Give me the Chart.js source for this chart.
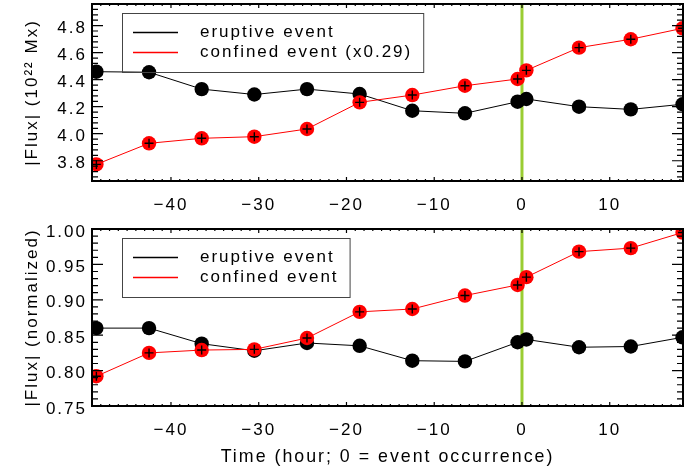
<!DOCTYPE html>
<html>
<head>
<meta charset="utf-8">
<script src="https://cdn.jsdelivr.net/npm/chart.js@4.4.0/dist/chart.umd.min.js"></script>
<style>
  html, body { margin: 0; padding: 0; background: #fff; }
  #wrap { position: relative; width: 685px; height: 466px; }
  canvas { position: absolute; left: 0; }
  #flux-top { top: 0; }
  #flux-norm { top: 220px; }
</style>
</head>
<body>
<div id="wrap">
  <canvas id="flux-top" width="685" height="220"></canvas>
  <canvas id="flux-norm" width="685" height="246"></canvas>
</div>
<script>
"use strict";
// hours relative to the event
const hours = [-48.5, -42.5, -36.5, -30.5, -24.5, -18.5, -12.5, -6.5, -0.5, 0.5, 6.5, 12.4, 18.3];
// |Flux| in 10^22 Mx (confined scaled by 0.29)
const eruptiveFlux = [4.459, 4.455, 4.33, 4.29, 4.33, 4.294, 4.17, 4.151, 4.237, 4.257, 4.2, 4.18, 4.218];
const confinedFlux = [3.773, 3.929, 3.966, 3.978, 4.035, 4.232, 4.286, 4.355, 4.405, 4.469, 4.637, 4.699, 4.78];
// normalized |Flux|
const eruptiveNorm = [0.86, 0.86, 0.838, 0.828, 0.839, 0.835, 0.814, 0.813, 0.84, 0.844, 0.833, 0.834, 0.847];
const confinedNorm = [0.792, 0.825, 0.829, 0.83, 0.846, 0.883, 0.887, 0.906, 0.921, 0.932, 0.968, 0.973, 0.995];
const xTickLabels = [-40, -30, -20, -10, 0, 10];
const fluxTickLabels = [3.8, 4.0, 4.2, 4.4, 4.6, 4.8];
const normTickLabels = [0.75, 0.8, 0.85, 0.9, 0.95, 1.0];
const eventHour = 0;

const fontFamily = "'Liberation Sans', Arial, sans-serif";
const tracking = "2px";
Chart.defaults.font.family = fontFamily;
Chart.defaults.font.size = 17;
Chart.defaults.color = "#000";

const pairs = (xs, ys) => xs.map((x, i) => ({ x: x, y: ys[i] }));
const minusSign = (s) => String(s).replace("-", "\u2212");

const trackingPlugin = {
  id: "tracking",
  beforeUpdate(chart) { chart.ctx.letterSpacing = tracking; },
  beforeDraw(chart) { chart.ctx.letterSpacing = tracking; },
};

const eventLinePlugin = {
  id: "eventLine",
  beforeDatasetsDraw(chart) {
    const { ctx, chartArea: a, scales: { x } } = chart;
    const px = x.getPixelForValue(eventHour);
    ctx.save();
    ctx.strokeStyle = "#9acd32";
    ctx.lineWidth = 3;
    ctx.beginPath();
    ctx.moveTo(px, a.top);
    ctx.lineTo(px, a.bottom);
    ctx.stroke();
    ctx.restore();
  },
};

// IDL style box with inward ticks on all four sides
const idlAxesPlugin = {
  id: "idlAxes",
  afterDatasetsDraw(chart, args, opts) {
    const { ctx, chartArea: a, scales: { x, y } } = chart;
    ctx.save();
    ctx.strokeStyle = "#000";
    ctx.lineWidth = 1.2;
    ctx.beginPath();
    const steps = (scale, major, minor, fn) => {
      const i0 = Math.ceil(scale.min / minor - 1e-6);
      const i1 = Math.floor(scale.max / minor + 1e-6);
      for (let i = i0; i <= i1; i++) {
        const v = i * minor;
        const r = v / major;
        fn(scale.getPixelForValue(v), Math.abs(r - Math.round(r)) < 1e-6);
      }
    };
    steps(x, opts.xMajor, opts.xMinor, (px, isMajor) => {
      const len = isMajor ? 4 : 2;
      ctx.moveTo(px, a.bottom);
      ctx.lineTo(px, a.bottom - len);
      ctx.moveTo(px, a.top);
      ctx.lineTo(px, a.top + len);
    });
    steps(y, opts.yMajor, opts.yMinor, (py, isMajor) => {
      const len = isMajor ? 11 : 6;
      ctx.moveTo(a.left, py);
      ctx.lineTo(a.left + len, py);
      ctx.moveTo(a.right, py);
      ctx.lineTo(a.right - len, py);
    });
    ctx.stroke();
    ctx.lineWidth = 2;
    ctx.strokeRect(a.left, a.top, a.right - a.left, a.bottom - a.top);
    ctx.restore();
  },
};

const boxLegendPlugin = {
  id: "boxLegend",
  afterDraw(chart) {
    const { ctx, chartArea: a } = chart;
    const items = chart.data.datasets.filter((d) => !d.markerOnly);
    ctx.save();
    ctx.font = "17px " + fontFamily;
    ctx.letterSpacing = tracking;
    const textX = a.left + 108;
    const textW = Math.max(...items.map((d) => ctx.measureText(d.label).width));
    const boxL = a.left + 30;
    const boxT = a.top + 9;
    ctx.strokeStyle = "#444";
    ctx.lineWidth = 1;
    ctx.strokeRect(boxL + 0.5, boxT + 0.5, textX + textW + 11 - boxL, 59);
    ctx.textBaseline = "middle";
    items.forEach((d, i) => {
      const ly = Math.round(boxT + 19 + i * 19.5) + 0.5;
      ctx.strokeStyle = d.borderColor;
      ctx.lineWidth = 1.3;
      ctx.beginPath();
      ctx.moveTo(a.left + 41, ly);
      ctx.lineTo(a.left + 86, ly);
      ctx.stroke();
      ctx.fillStyle = "#000";
      ctx.fillText(d.label, textX, ly);
    });
    ctx.restore();
  },
};

function buildPanel(canvasId, cfg) {
  return new Chart(document.getElementById(canvasId), {
    type: "line",
    data: {
      datasets: [
        {
          label: cfg.labels[0],
          data: pairs(hours, cfg.eruptive),
          borderColor: "#000000",
          borderWidth: 1,
          pointRadius: 7.2,
          pointBorderWidth: 0,
          pointBackgroundColor: "#000000",
          clip: 0,
          order: 3,
        },
        {
          label: cfg.labels[1],
          data: pairs(hours, cfg.confined),
          borderColor: "#ff0000",
          borderWidth: 1,
          pointRadius: 7.2,
          pointBorderWidth: 0,
          pointBackgroundColor: "#ff0000",
          clip: 0,
          order: 2,
        },
        {
          label: "",
          markerOnly: true,
          data: pairs(hours, cfg.confined),
          showLine: false,
          pointStyle: "cross",
          pointRadius: 4.5,
          pointBorderColor: "#000000",
          pointBorderWidth: 1.4,
          clip: 0,
          order: 1,
        },
      ],
    },
    options: {
      responsive: false,
      animation: false,
      events: [],
      layout: {
        autoPadding: false,
        padding: { top: cfg.padTop, right: 2, left: 0, bottom: 0 },
      },
      plugins: {
        legend: { display: false },
        tooltip: { enabled: false },
        idlAxes: { xMajor: 10, xMinor: 1, yMajor: cfg.yMajor, yMinor: cfg.yMinor },
      },
      scales: {
        x: {
          type: "linear",
          min: -49,
          max: 18.35,
          afterBuildTicks: (s) => { s.ticks = xTickLabels.map((v) => ({ value: v })); },
          afterFit: (s) => {
            s.height = cfg.xHeight;
            s.paddingLeft = 0;
            s.paddingRight = 0;
          },
          ticks: {
            callback: (v) => minusSign(v),
            padding: 16,
            maxRotation: 0,
            autoSkip: false,
            font: { size: 17, lineHeight: 1 },
          },
          grid: { display: false, drawTicks: false },
          border: { display: false },
          title: {
            display: !!cfg.xTitle,
            text: cfg.xTitle || "",
            font: { size: 17.8, lineHeight: 1 },
            padding: { top: 0, bottom: 0 },
          },
        },
        y: {
          type: "linear",
          min: cfg.yMin,
          max: cfg.yMax,
          afterBuildTicks: (s) => { s.ticks = cfg.yTicks.map((v) => ({ value: v })); },
          afterFit: (s) => {
            s.width = 92;
            s.paddingTop = 0;
            s.paddingBottom = 0;
          },
          ticks: {
            callback: (v) => v.toFixed(cfg.decimals),
            padding: 5,
            labelOffset: 3,
            autoSkip: false,
            font: { size: 17, lineHeight: 1 },
          },
          grid: { display: false, drawTicks: false },
          border: { display: false },
          title: {
            display: true,
            text: cfg.yTitle,
            font: { size: 17, lineHeight: 1 },
            padding: { top: 24, bottom: 0 },
          },
        },
      },
    },
    plugins: [trackingPlugin, eventLinePlugin, idlAxesPlugin, boxLegendPlugin],
  });
}

buildPanel("flux-top", {
  labels: ["eruptive event", "confined event (x0.29)"],
  eruptive: eruptiveFlux,
  confined: confinedFlux,
  yTicks: fluxTickLabels,
  yMin: 3.65,
  yMax: 4.96,
  yMajor: 0.2,
  yMinor: 0.04,
  decimals: 1,
  padTop: 4,
  xHeight: 39,
  yTitle: "|Flux| (10\u00b2\u00b2 Mx)",
});

buildPanel("flux-norm", {
  labels: ["eruptive event", "confined event"],
  eruptive: eruptiveNorm,
  confined: confinedNorm,
  yTicks: normTickLabels,
  yMin: 0.75,
  yMax: 1.0,
  yMajor: 0.05,
  yMinor: 0.01,
  decimals: 2,
  padTop: 9,
  xHeight: 60,
  yTitle: "|Flux| (normalized)",
  xTitle: "Time (hour; 0 = event occurrence)",
});
</script>
</body>
</html>
